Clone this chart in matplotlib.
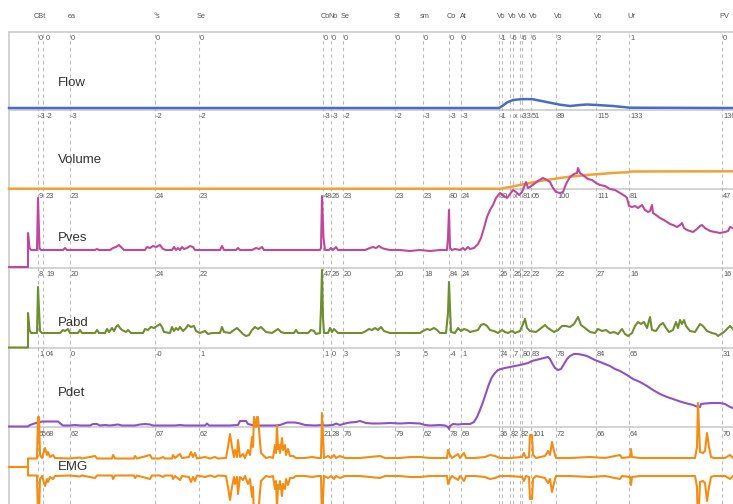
import matplotlib

matplotlib.use("Agg")
import matplotlib.pyplot as plt
import numpy as np

# event markers (time, same axis for every channel)
marker_t = [38, 43, 70, 155, 199, 323, 331, 343, 395, 423, 449, 461,
            499, 502, 510, 513, 520, 522, 531, 556, 596, 629, 722]
marker_names = ["CBt", "", "ea", "°s", "Se", "Co", "No", "Se", "St", "sm", "Co", "At",
                "Vo", "", "Vo", "", "Vo", "", "Vo", "Vo", "Vo", "Ur", "PV"]

# channel values read at each marker
flow_at = ["0", "0", "0", "0", "0", "0", "0", "0", "0", "0", "0", "0",
           "-1", "", "-6", "", "-6", "", "6", "3", "2", "1", "0"]
volume_at = ["-3", "-2", "-3", "-2", "-2", "-3", "-3", "-2", "-2", "-3", "-3", "-3",
             "-1", "", "", "x", "-33", "", "51", "89", "115", "133", "136"]
pves_at = ["9", "23", "23", "24", "23", "48", "26", "23", "23", "23", "80", "24",
           "80", "", "", "x", "", "81", "05", "100", "111", "81", "47"]
pabd_at = ["8", "19", "20", "24", "22", "47", "26", "20", "20", "18", "84", "24",
           "26", "", "", "26", "", "22", "22", "22", "27", "16", "16"]
pdet_at = ["1", "04", "0", "-0", "1", "1", "0", "3", "3", "5", "-4", "1",
           "74", "", "", "7", "", "80", "83", "78", "84", "65", "31"]
emg_at = ["55", "68", "62", "67", "62", "21", "28", "76", "79", "62", "78", "69",
          "36", "", "82", "", "82", "", "101", "72", "66", "64", "70"]

# traces
flow_t = [9, 499, 503, 507, 513, 520, 527, 533, 540, 550, 560, 570, 580, 587, 597, 613, 630, 733]
flow_v = [2, 2, 4.5, 7.5, 10, 10.7, 10.9, 10.7, 9.3, 7.3, 5.3, 4, 5, 5.5, 5, 4, 2.3, 2]

volume_t = [9, 500, 510, 520, 530, 540, 550, 560, 570, 580, 590, 600, 615, 629, 631, 733]
volume_v = [0.3, 0.3, 2, 4, 6, 8, 9.5, 11, 12.3, 13.3, 14.3, 15, 16.2, 16.8, 17.5, 17.7]

pves_t = [9, 28, 28, 29.5, 31, 37, 38, 39.5, 41, 63, 65, 67, 95, 97, 99, 110, 113, 116, 119,
          122, 124, 145, 147, 150, 153, 156, 160, 163, 166, 172, 174, 176, 178, 180, 182, 184,
          187, 190, 193, 195, 220, 222, 224, 236, 238, 240, 252, 254, 256, 259, 262, 264, 320,
          321, 322, 323.5, 325, 329, 331, 333, 336, 338, 365, 370, 373, 376, 379, 382, 385,
          390, 400, 410, 420, 430, 440, 447, 448, 449, 450, 452, 455, 460, 463, 465, 468, 470,
          474, 478, 481, 484, 487, 490, 493, 496, 500, 504, 507, 510, 513, 516, 519, 522, 526,
          528, 530, 534, 538, 543, 547, 550, 553, 556, 560, 563, 566, 570, 574, 577, 578, 580,
          584, 588, 592, 596, 600, 605, 610, 615, 620, 625, 627, 629, 632, 635, 638, 642, 645,
          648, 650, 652, 653, 656, 660, 664, 667, 670, 673, 677, 680, 682, 684, 687, 690, 693,
          697, 700, 702, 705, 710, 715, 720, 725, 728, 730, 733]
pves_v = [1, 1, 35, 20, 18, 18, 70, 20, 18, 18, 20, 18, 18, 19, 18, 18, 20, 21, 23,
          20, 18, 18, 21, 20, 22, 21, 23, 19, 18, 18, 21, 18, 20, 18, 21, 19,
          20, 22, 21, 18, 18, 22, 18, 18, 20, 18, 18, 19, 20, 19, 21, 18, 18,
          20, 72, 30, 18, 18, 20, 18, 21, 18, 18, 20, 21, 20, 22, 20, 19,
          18, 18, 17, 18, 17, 18, 18, 30, 58, 20, 18, 19, 18, 20, 18, 21, 19,
          20, 24, 30, 40, 51, 58, 63, 70, 75, 72, 70, 74, 78, 76, 73, 76, 86,
          80, 81, 84, 87, 90, 88, 86, 80, 76, 75, 76, 84, 91, 94, 95, 100, 95,
          92, 89, 88, 85, 83, 82, 79, 78, 75, 72, 70, 62, 61, 62, 60, 63, 58,
          56, 57, 63, 55, 53, 50, 48, 46, 44, 43, 41, 43, 45, 40, 38, 37, 36,
          39, 42, 43, 40, 37, 36, 35, 36, 37, 41, 40]

pabd_t = [9, 28, 28, 29.5, 31, 37, 38, 39, 40, 42, 60, 63, 65, 68, 70, 78, 80, 82, 95, 97, 99,
          105, 107, 109, 112, 114, 116, 118, 120, 122, 126, 128, 131, 143, 145, 148, 151, 154,
          157, 160, 162, 164, 170, 172, 174, 176, 178, 180, 183, 186, 188, 191, 194, 196, 200,
          205, 208, 212, 220, 222, 224, 230, 234, 237, 240, 243, 246, 249, 252, 255, 258, 261,
          264, 266, 272, 275, 278, 281, 284, 294, 296, 298, 308, 311, 314, 316, 320, 321, 322,
          323, 324, 328, 330, 332, 334, 336, 338, 362, 366, 369, 372, 375, 378, 381, 384, 390,
          400, 415, 420, 423, 427, 430, 434, 437, 440, 446, 448, 449, 450, 451, 455, 458, 461,
          464, 467, 470, 478, 481, 484, 487, 490, 494, 498, 502, 505, 508, 512, 515, 520, 523,
          525, 527, 530, 536, 540, 545, 548, 551, 554, 558, 562, 566, 570, 574, 578, 581, 585,
          590, 595, 598, 602, 606, 610, 614, 618, 622, 625, 628, 632, 635, 638, 641, 644, 647,
          650, 652, 656, 660, 663, 666, 669, 673, 676, 678, 680, 682, 684, 686, 690, 695, 700,
          703, 707, 712, 716, 718, 721, 724, 728, 730, 733]
pabd_v = [0.5, 0.5, 35, 18, 15, 15, 61, 40, 17, 15, 15, 18, 17, 19, 15, 15, 18, 15, 15, 18, 15,
          15, 19, 16, 20, 17, 21, 23, 20, 18, 16, 18, 15, 15, 19, 18, 21, 20,
          22, 24, 21, 16, 15, 21, 17, 20, 18, 21, 17, 20, 23, 21, 22, 17, 15,
          17, 14, 15, 15, 21, 16, 15, 18, 20, 17, 14, 12, 13, 18, 21, 19, 21,
          18, 16, 15, 17, 19, 16, 15, 15, 18, 15, 15, 18, 17, 14, 15, 40, 78,
          30, 15, 15, 20, 16, 19, 17, 15, 15, 17, 19, 18, 20, 18, 21, 17, 15,
          15, 15, 15, 17, 19, 18, 20, 18, 15, 15, 35, 66, 40, 16, 15, 20, 17,
          19, 18, 16, 18, 23, 24, 22, 18, 17, 15, 18, 16, 15, 17, 15, 17, 24,
          29, 20, 17, 16, 19, 23, 20, 18, 16, 18, 22, 22, 21, 24, 31, 23, 20,
          16, 15, 19, 17, 18, 15, 16, 14, 19, 14, 12, 15, 22, 26, 24, 26, 20,
          31, 18, 17, 23, 25, 20, 16, 18, 26, 20, 28, 24, 28, 22, 17, 16, 24,
          22, 17, 15, 14, 12, 14, 16, 20, 22, 19]

pdet_t = [9, 28, 30, 33, 36, 39, 42, 50, 58, 61, 63, 70, 75, 80, 90, 93, 97, 100, 105, 110,
          118, 122, 135, 140, 145, 150, 153, 175, 180, 185, 205, 207, 209, 230, 238, 240, 246,
          248, 252, 256, 275, 280, 287, 295, 300, 305, 315, 322, 326, 333, 336, 340, 345, 350,
          356, 360, 363, 366, 372, 380, 390, 400, 410, 420, 425, 430, 440, 445, 448, 449, 450,
          453, 458, 463, 470, 474, 477, 480, 483, 486, 489, 492, 495, 498, 501, 505, 510, 515,
          520, 524, 528, 532, 536, 540, 544, 548, 550, 552, 555, 558, 561, 564, 567, 570, 574,
          578, 583, 587, 591, 595, 600, 605, 610, 615, 620, 627, 633, 640, 647, 653, 660, 667,
          673, 680, 687, 693, 698, 700, 701, 705, 712, 720, 725, 730, 733]
pdet_v = [0.5, 0.5, 2, 3, 4, 4.5, 5.5, 5.5, 5.5, 3, 1.5, 1.5, 2, 1.5, 1.5, 3, 3, 1.5, 2, 1.5,
          2.5, 1.5, 1.5, 2.5, 3, 2.5, 1.5, 1.5, 2, 1.5, 1.5, 3.5, 1.5, 1.5, 2, 6, 6,
          3, 2, 1.5, 1.5, 2, 4.5, 4.5, 3.5, 2, 1.5, 2, 1.5, 2, 3.5, 2, 3.5, 4.5,
          5, 6, 5, 4, 3.5, 3.5, 4, 3.5, 4, 3.5, 2, 1.5, 2, 1.5, 0, -2, 1,
          3, 2.5, 3, 3, 5, 10, 17, 25, 34, 43, 50, 54, 57, 58, 59, 60, 61,
          62, 63, 64, 66, 67, 68, 69, 70, 68, 64, 59, 57, 58, 63, 68, 71, 73,
          73, 72, 71, 69, 67, 65, 63, 61, 58, 56, 52, 48, 45, 41, 37, 33, 30,
          28, 25.5, 23.5, 22, 20, 20, 23, 23.5, 24, 24, 23, 20, 19]

# EMG: symmetric envelope around the centre line
emg_t = [9, 28, 28, 37, 38, 39, 40, 42, 45, 47, 48, 50, 53, 55, 70, 80, 82, 95, 97, 112, 113,
         115, 134, 135, 137, 150, 152, 160, 163, 165, 172, 173, 175, 180, 182, 189, 191, 193,
         195, 197, 205, 210, 215, 218, 226, 228, 230, 232, 234, 235, 237, 238, 240, 243, 245,
         248, 250, 252, 253, 254, 256, 257, 258, 260, 261, 263, 266, 270, 273, 275, 276, 277,
         278, 279, 280, 282, 283, 285, 286, 288, 290, 293, 296, 305, 312, 318, 321, 322, 323,
         324, 328, 331, 334, 336, 340, 345, 360, 370, 380, 385, 400, 410, 420, 430, 440, 447,
         448, 450, 452, 458, 460, 464, 466, 475, 485, 490, 495, 500, 510, 522, 524, 526, 529,
         530, 532, 533, 536, 545, 548, 550, 552, 554, 556, 570, 590, 605, 620, 622, 630, 631,
         632, 640, 660, 680, 695, 697, 698, 699, 700, 703, 705, 707, 709, 711, 714, 725, 730, 733]
emg_v = [0, 0, 8.5, 8.5, 50, 50, 12, 9, 19, 12, 15, 10, 12, 9, 8.5, 9.5, 8.5, 11, 8.5, 8.5, 12,
         8.5, 8.5, 11, 8.5, 12, 8.5, 8.5, 10, 8.5, 8.5, 12, 9, 13, 9, 10, 15, 10,
         14, 8.5, 10, 8.5, 10, 8.5, 9, 20, 33, 20, 10, 17, 10, 27, 10, 13, 9,
         17, 12, 30, 20, 50, 40, 50, 50, 25, 14, 12, 9, 10, 9, 22, 14, 41,
         18, 22, 14, 29, 17, 22, 12, 18, 11, 11, 9, 9, 10, 9, 9, 54, 30,
         9, 11, 9, 12, 9, 11, 9, 9, 10, 11, 9, 9, 10, 10, 9, 9, 9,
         17, 12, 9, 13, 9, 14, 9, 9, 10, 12, 11, 9, 9, 10, 14, 9, 10,
         32, 32, 12, 9, 11, 16, 12, 25, 16, 9, 9, 10, 9, 12, 9, 10, 18,
         10, 9, 9, 9, 9, 20, 64, 40, 15, 14, 16, 34, 20, 10, 9, 9, 12, 9]

W, H = 733, 504
X0 = 9
GREY = "#cccccc"
TXT = "#555555"
FONT = "Liberation Sans"

fig = plt.figure(figsize=(W / 100, H / 100), dpi=100)

# background layer in pixel rows: frame, separators, event markers, labels
bg = fig.add_axes([X0 / W, 0, 1 - X0 / W, 1 - 32 / H])
bg.set_xlim(X0, W)
bg.set_ylim(H, 32)
bg.set_xticks([])
bg.set_yticks([])
for side in ["right", "bottom"]:
    bg.spines[side].set_visible(False)
for side in ["left", "top"]:
    bg.spines[side].set_color(GREY)
    bg.spines[side].set_linewidth(1.2)

# panel name, top row, bottom row, name row, values
panels = [
    ("Flow", 32, 110, 83, flow_at),
    ("Volume", 110, 189, 160, volume_at),
    ("Pves", 189, 268, 238, pves_at),
    ("Pabd", 268, 348, 323, pabd_at),
    ("Pdet", 348, 427, 393, pdet_at),
    ("EMG", 427, 507, 467, emg_at),
]

for p in panels[1:]:
    bg.axhline(p[1], color=GREY, lw=1.2, zorder=1)

for t in marker_t:
    bg.axvline(t, color="#bbbbbb", lw=0.8, ls=(0, (3, 3)), zorder=1)

for t, name in zip(marker_t, marker_names):
    if name:
        bg.text(t + 2, 17, name, ha="center", va="center", fontsize=5.3,
                color=TXT, family=FONT, clip_on=False)

# second line of the first marker pair sits a little further right
value_dx = [1] * len(marker_t)
value_dx[1] = 3

for name, top, bottom, yname, vals in panels:
    bg.text(58, yname, name, ha="left", va="center", fontsize=9.5,
            color="#333333", family=FONT)
    for t, dx, v in zip(marker_t, value_dx, vals):
        if v:
            bg.text(t + dx, top + 7, v, ha="left", va="center", fontsize=5.3,
                    color=TXT, family=FONT)


def panel_axes(top, bottom, ylo, yhi):
    ax = fig.add_axes([X0 / W, 1 - bottom / H, 1 - X0 / W, (bottom - top) / H])
    ax.set_xlim(X0, W)
    ax.set_ylim(ylo, yhi)
    ax.patch.set_alpha(0)
    ax.axis("off")
    return ax


ax = panel_axes(32, 110, 0, 78)
ax.plot(flow_t, flow_v, color="#4a6cc8", lw=1.8, clip_on=False)

ax = panel_axes(110, 189, 0, 79)
ax.plot(volume_t, volume_v, color="#f6a030", lw=1.8, clip_on=False)

ax = panel_axes(189, 268, 0, 79)
ax.plot(pves_t, pves_v, color="#c1479e", lw=1.5, clip_on=False)

ax = panel_axes(268, 348, 0, 80)
ax.plot(pabd_t, pabd_v, color="#6f8f2f", lw=1.5, clip_on=False)

ax = panel_axes(348, 427, 0, 79)
ax.plot(pdet_t, pdet_v, color="#9150c8", lw=1.5, clip_on=False)

ax = panel_axes(427, 507, -40, 40)
emg = np.array(emg_v)
ax.plot(emg_t, emg, color="#f68c12", lw=1.5, clip_on=False)
ax.plot(emg_t, -emg, color="#f68c12", lw=1.5, clip_on=False)

fig.savefig("out.png", dpi=100)
